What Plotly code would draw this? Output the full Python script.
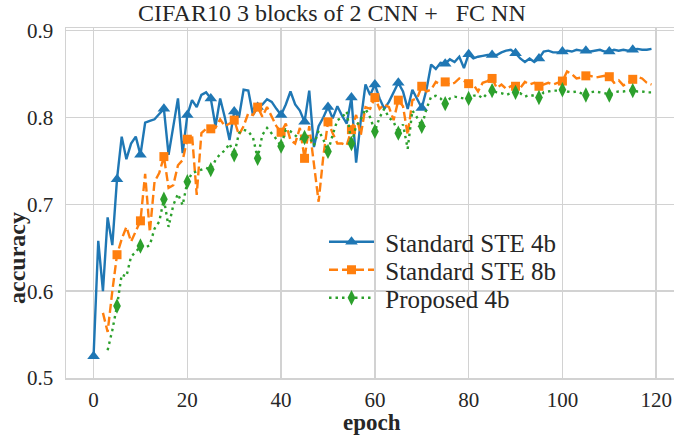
import plotly.graph_objects as go

epochs = list(range(120))

standard_ste_4b = [
    0.525, 0.658, 0.600, 0.685, 0.653, 0.729, 0.778, 0.752, 0.770, 0.778,
    0.757, 0.794, 0.796, 0.798, 0.804, 0.810, 0.757, 0.790, 0.822, 0.759,
    0.803, 0.820, 0.812, 0.826, 0.829, 0.822, 0.790, 0.822, 0.800, 0.774,
    0.807, 0.800, 0.832, 0.831, 0.803, 0.812, 0.815, 0.821, 0.818, 0.810,
    0.803, 0.815, 0.830, 0.815, 0.808, 0.795, 0.831, 0.766, 0.790, 0.800,
    0.812, 0.799, 0.813, 0.802, 0.793, 0.823, 0.748, 0.797, 0.838, 0.826,
    0.838, 0.822, 0.810, 0.818, 0.830, 0.840, 0.830, 0.810, 0.832, 0.822,
    0.811, 0.832, 0.861, 0.856, 0.863, 0.862, 0.867, 0.864, 0.870, 0.857,
    0.873, 0.868, 0.870, 0.871, 0.872, 0.872, 0.872, 0.875, 0.877, 0.878,
    0.874, 0.868, 0.864, 0.868, 0.864, 0.868, 0.876, 0.877, 0.875, 0.875,
    0.876, 0.877, 0.876, 0.878, 0.877, 0.877, 0.876, 0.877, 0.878, 0.876,
    0.876, 0.878, 0.877, 0.878, 0.877, 0.878, 0.879, 0.878, 0.878, 0.879,
]

standard_ste_8b = [
    None, None, 0.575, 0.553, 0.600, 0.642, 0.660, 0.674, 0.657, 0.670,
    0.681, 0.735, 0.668, 0.726, 0.736, 0.755, 0.719, 0.722, 0.745, 0.751,
    0.775, 0.780, 0.711, 0.782, 0.787, 0.787, 0.788, 0.798, 0.790, 0.793,
    0.797, 0.780, 0.790, 0.805, 0.803, 0.812, 0.801, 0.812, 0.800, 0.790,
    0.783, 0.793, 0.774, 0.770, 0.788, 0.753, 0.790, 0.747, 0.703, 0.755,
    0.795, 0.782, 0.770, 0.770, 0.768, 0.786, 0.803, 0.780, 0.812, 0.810,
    0.823, 0.810, 0.815, 0.812, 0.797, 0.820, 0.813, 0.780, 0.820, 0.822,
    0.836, 0.830, 0.832, 0.841, 0.838, 0.841, 0.838, 0.840, 0.845, 0.842,
    0.839, 0.838, 0.830, 0.840, 0.842, 0.845, 0.834, 0.838, 0.833, 0.836,
    0.836, 0.834, 0.841, 0.838, 0.840, 0.836, 0.838, 0.840, 0.838, 0.840,
    0.842, 0.853, 0.850, 0.845, 0.846, 0.848, 0.848, 0.846, 0.847, 0.848,
    0.847, 0.840, 0.843, 0.837, 0.840, 0.844, 0.847, 0.845, 0.840, 0.838,
]

proposed_4b = [
    None, None, None, 0.532, 0.555, 0.583, 0.619, 0.617, 0.640, 0.645,
    0.652, 0.650, 0.653, 0.672, 0.680, 0.706, 0.674, 0.699, 0.712, 0.699,
    0.726, 0.736, 0.738, 0.740, 0.742, 0.740, 0.751, 0.758, 0.762, 0.770,
    0.757, 0.782, 0.786, 0.784, 0.777, 0.753, 0.780, 0.788, 0.782, 0.775,
    0.767, 0.786, 0.784, 0.780, 0.775, 0.777, 0.778, 0.768, 0.785, 0.775,
    0.761, 0.780, 0.797, 0.800, 0.807, 0.770, 0.790, 0.798, 0.810, 0.800,
    0.784, 0.800, 0.810, 0.800, 0.795, 0.782, 0.792, 0.764, 0.808, 0.800,
    0.790, 0.810, 0.824, 0.825, 0.822, 0.816, 0.822, 0.824, 0.823, 0.822,
    0.822, 0.825, 0.826, 0.822, 0.828, 0.831, 0.829, 0.828, 0.826, 0.828,
    0.829, 0.828, 0.824, 0.826, 0.825, 0.823, 0.829, 0.830, 0.831, 0.831,
    0.832, 0.830, 0.829, 0.830, 0.828, 0.826, 0.829, 0.830, 0.829, 0.828,
    0.826, 0.829, 0.830, 0.830, 0.831, 0.831, 0.830, 0.830, 0.829, 0.829,
]

series_names = ["Standard STE 4b", "Standard STE 8b", "Proposed 4b"]
x_ticks = [0, 20, 40, 60, 80, 100, 120]
y_ticks = [0.5, 0.6, 0.7, 0.8, 0.9]
title_text = "CIFAR10 3 blocks of 2 CNN +\u00a0\u00a0\u00a0FC NN"
x_label = "epoch"
y_label = "accuracy"

MARK_EVERY = 5
FONT = "Liberation Serif"
TXT = "#262626"
GRID = "#d2d2d2"
W, H = 674, 436
ML, MR, MT, MB = 66, 0, 28, 58
PW, PH = W - ML - MR, H - MT - MB


def px(x):
    return (x - ML) / PW


def py(y):
    return (H - MB - y) / PH


styles = [
    dict(color="#1f77b4", dash="solid", symbol="triangle-up", size=11),
    dict(color="#ff7f0e", dash="9px,4px", symbol="square", size=9),
    dict(color="#2ca02c", dash="2.5px,4px", symbol="diamond-tall", size=11),
]
legend_ids = ["legend", "legend2", "legend3"]
legend_rows = [242, 270, 298]

fig = go.Figure()
for name, ys, st, lid in zip(series_names, [standard_ste_4b, standard_ste_8b, proposed_4b], styles, legend_ids):
    fig.add_trace(go.Scatter(
        x=epochs, y=ys, mode="lines", showlegend=False,
        line=dict(color=st["color"], width=2.4, dash=st["dash"]),
        hoverinfo="skip",
    ))
    mx = [e for e in epochs if e % MARK_EVERY == 0 and ys[e] is not None]
    my = [ys[e] for e in mx]
    fig.add_trace(go.Scatter(
        x=mx, y=my, mode="markers", showlegend=False,
        marker=dict(color=st["color"], symbol=st["symbol"], size=st["size"], line=dict(width=0)),
    ))
    fig.add_trace(go.Scatter(
        x=[None], y=[None], mode="lines+markers", name="\u00a0" + name, legend=lid,
        line=dict(color=st["color"], width=2.4, dash=st["dash"]),
        marker=dict(color=st["color"], symbol=st["symbol"], size=st["size"], line=dict(width=0)),
    ))

legend_common = dict(
    xanchor="left", yanchor="middle",
    bgcolor="rgba(0,0,0,0)", borderwidth=0,
    font=dict(family=FONT, size=25, color=TXT),
    itemwidth=45,
)

fig.update_layout(
    width=W, height=H,
    margin=dict(l=ML, r=MR, t=MT, b=MB, pad=0, autoexpand=False),
    paper_bgcolor="white", plot_bgcolor="white",
    font=dict(family=FONT, size=22, color=TXT),
    showlegend=True,
    xaxis=dict(
        range=[-5.88, 123.8], tickvals=x_ticks, ticktext=[str(v) for v in x_ticks],
        showgrid=True, gridcolor=GRID, gridwidth=1.5,
        showline=True, mirror=True, linecolor=GRID, linewidth=1.5,
        zeroline=False, ticks="", ticklabelstandoff=2, automargin=False,
        tickfont=dict(family=FONT, size=21, color=TXT),
    ),
    yaxis=dict(
        range=[0.5, 0.9031], tickvals=y_ticks, ticktext=[f"{v:.1f}" for v in y_ticks],
        showgrid=True, gridcolor=GRID, gridwidth=1.5,
        showline=True, mirror=False, linecolor=GRID, linewidth=1.5,
        zeroline=False, ticks="", ticklabelstandoff=7, automargin=False,
        tickfont=dict(family=FONT, size=21, color=TXT),
    ),
    annotations=[
        dict(text=title_text, x=px(332), y=py(13), xref="paper", yref="paper",
             xanchor="center", yanchor="middle", showarrow=False,
             font=dict(family=FONT, size=24, color=TXT)),
        dict(text=f"<b>{x_label}</b>", x=px(372), y=py(422.5), xref="paper", yref="paper",
             xanchor="center", yanchor="middle", showarrow=False,
             font=dict(family=FONT, size=23, color=TXT)),
        dict(text=f"<b>{y_label}</b>", x=px(17), y=py(258), xref="paper", yref="paper",
             xanchor="center", yanchor="middle", showarrow=False, textangle=-90,
             font=dict(family=FONT, size=24, color=TXT)),
    ],
)
for lid, row in zip(legend_ids, legend_rows):
    fig.update_layout({lid: dict(legend_common, x=px(324), y=py(row))})

fig.write_html(
    "out.html",
    config={"displayModeBar": False, "staticPlot": True},
    post_script="document.body.style.margin='0';document.body.style.overflow='hidden';",
)
